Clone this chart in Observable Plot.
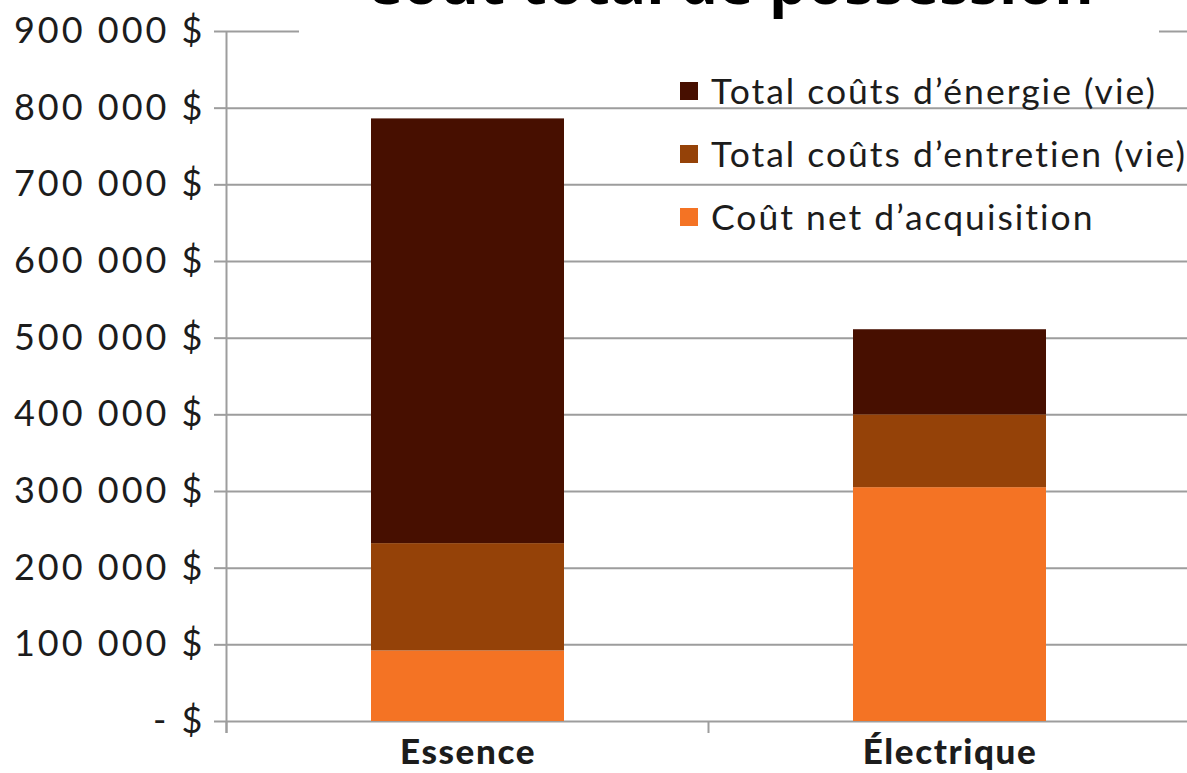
<!DOCTYPE html>
<html lang="fr">
<head>
<meta charset="utf-8">
<script src="https://cdn.jsdelivr.net/npm/d3@7"></script>
<script src="https://cdn.jsdelivr.net/npm/@observablehq/plot@0.6"></script>
<style>
  html, body { margin: 0; padding: 0; background: #fff; overflow: hidden; }
  #wrap { position: relative; width: 1187px; height: 773px; overflow: hidden; background: #fff; }
  #chart { position: absolute; left: 0; top: 0; }
  #chart g[aria-label="y-axis tick label"] text { letter-spacing: 3px; }
  #chart g[aria-label="x-axis tick label"] text { letter-spacing: 1.6px; }
  #title { position: absolute; left: 299px; top: 0; width: 860px; height: 34px; background: #fff; overflow: hidden; }
  #legend { position: absolute; left: 680px; top: 59px; font-family: Lato, sans-serif; font-size: 35.5px; letter-spacing: 2px; color: #1c1c1c; }
  .row { height: 63px; display: flex; align-items: center; white-space: nowrap; }
  .sw { width: 18px; height: 18px; margin-right: 13px; flex: none; }
</style>
</head>
<body>
<div id="wrap">
  <div id="chart"></div>
  <div id="title"><svg width="860" height="34"><text x="430" y="4" text-anchor="middle" font-family="Open Sans, sans-serif" font-weight="700" font-size="60" fill="#000">Coût total de possession</text></svg></div>
  <div id="legend"></div>
</div>
<script>
// ---- data ----
const categories = ["Essence", "Électrique"];
const series = ["Coût net d’acquisition", "Total coûts d’entretien (vie)", "Total coûts d’énergie (vie)"];
const acquisition = [92000, 305000];
const entretien = [140000, 95000];
const energie = [554000, 111000];
const colors = ["#f47324", "#954208", "#470f00"];
const yTicks = [0, 100000, 200000, 300000, 400000, 500000, 600000, 700000, 800000, 900000];

const values = [acquisition, entretien, energie];
const rows = [];
categories.forEach((c, i) => {
  series.forEach((s, j) => rows.push({category: c, series: s, value: values[j][i]}));
});

const fmt = d => d === 0 ? "- $" : d3.format(",")(d).replace(/,/g, " ") + " $";
const gridColor = "#9d9d9d";

const boundaryTicks = (index, scales, vals, dims) => {
  const x = scales.x, y = scales.y;
  const step = x.step(), bw = x.bandwidth();
  const half = (step - bw) / 2;
  const bounds = [x(categories[0]) - half, ...categories.map(c => x(c) + bw + half)];
  const y0 = y(0);
  const g = d3.create("svg:g").attr("stroke", gridColor).attr("stroke-width", 2);
  g.selectAll("line.b").data(bounds).join("line")
    .attr("x1", d => d).attr("x2", d => d).attr("y1", y0).attr("y2", y0 + 12);
  g.append("line").attr("x1", bounds[0]).attr("x2", bounds[0])
    .attr("y1", y(yTicks[yTicks.length - 1])).attr("y2", y0 + 12);
  return g.node();
};

const chart = Plot.plot({
  width: 1190,
  height: 773,
  marginLeft: 226,
  marginRight: 0,
  marginTop: 31,
  marginBottom: 52,
  style: {fontFamily: "Lato, sans-serif", fontSize: "36px", color: "#1c1c1c", background: "#fff", maxWidth: "none"},
  x: {domain: categories, paddingInner: 0.6, paddingOuter: 0.3, label: null},
  y: {domain: [0, 900000], label: null},
  color: {domain: series, range: colors},
  marks: [
    Plot.gridY(yTicks, {stroke: gridColor, strokeOpacity: 1, strokeWidth: 2}),
    Plot.barY(rows, {x: "category", y: "value", fill: "series"}),
    Plot.axisY({ticks: yTicks, tickFormat: fmt, tickSize: 12, tickPadding: 9, stroke: gridColor, strokeWidth: 2, strokeOpacity: 1, fontSize: 36, label: null}),
    Plot.axisX({tickSize: 0, tickPadding: 18, fontSize: 35, fontWeight: 900, label: null}),
    boundaryTicks
  ]
});
document.getElementById("chart").appendChild(chart);

// legend (top-to-bottom: reversed stack order)
const legend = d3.select("#legend");
series.slice().reverse().forEach(s => {
  const r = legend.append("div").attr("class", "row");
  r.append("div").attr("class", "sw").style("background", colors[series.indexOf(s)]);
  r.append("span").text(s);
});
</script>
</body>
</html>
